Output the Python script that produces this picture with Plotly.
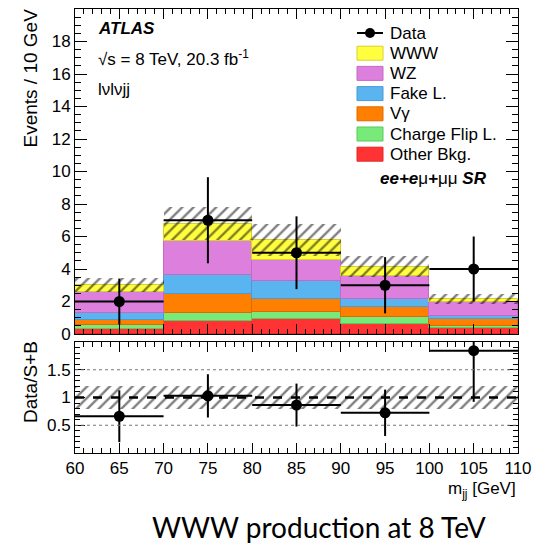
import numpy as np
import plotly.graph_objects as go

# ---------------- data ----------------
bin_centers = [65, 75, 85, 95, 105]
bin_widths = [10, 10, 10, 10, 10]
data_counts = [2, 7, 5, 3, 4]
data_err = [1.41, 2.65, 2.24, 1.73, 2.00]

other_bkg = [0.30, 0.82, 0.91, 0.62, 0.39]
charge_flip = [0.26, 0.50, 0.43, 0.41, 0.12]
vgamma = [0.31, 1.15, 0.82, 0.62, 0.40]
fake_lep = [0.41, 1.18, 1.12, 0.51, 0.22]
wz = [1.30, 2.05, 1.30, 1.38, 0.83]
www = [0.44, 1.10, 1.21, 0.60, 0.21]
total_unc = [0.45, 1.00, 0.96, 0.65, 0.30]
ratio_band_unc = [0.20, 0.20, 0.20, 0.20, 0.20]

main_ytick_vals = [0, 2, 4, 6, 8, 10, 12, 14, 16, 18]
ratio_ytick_vals = [0.5, 1.0, 1.5]
ratio_ytick_text = ["0.5", "1", "1.5"]
xtick_vals = [60, 65, 70, 75, 80, 85, 90, 95, 100, 105, 110]
xtick_text = ["60", "65", "70", "75", "80", "85", "90", "95", "100", "105", "110"]

component_names = ["Other Bkg.", "Charge Flip L.", "V\u03b3", "Fake L.", "WZ", "WWW"]
component_values = [other_bkg, charge_flip, vgamma, fake_lep, wz, www]
component_colors = ["#ff3333", "#78ea7a", "#ff8000", "#5ab4f0", "#dd80dd", "#ffff40"]
component_edges = ["#e02828", "#5cc85e", "#e06a00", "#4a9ad6", "#c46ac4", "#d8d030"]

# ---------------- layout geometry (pixels) ----------------
W, H = 537, 546
L, R, T, B = 75, 19, 9, 93
PW, PH = W - L - R, H - T - B


def px(x):
    return (x - L) / PW


def py(y):
    return (H - B - y) / PH


FONT = "Liberation Sans, Arial, sans-serif"
fig = go.Figure()

# stacked backgrounds
base = np.zeros(len(bin_centers))
for name, vals, col, lcol in zip(component_names, component_values, component_colors, component_edges):
    vals = np.array(vals)
    fig.add_trace(go.Bar(
        x=bin_centers, y=vals, base=base, width=bin_widths, name=name,
        marker=dict(color=col, line=dict(color=lcol, width=1)),
        showlegend=False, xaxis="x", yaxis="y", hoverinfo="skip",
    ))
    base = base + vals

total = base
tu = np.array(total_unc)
hatch = dict(shape="/", fgcolor="#000000", bgcolor="rgba(0,0,0,0)", size=8, solidity=0.3)
# uncertainty hatch in main panel
fig.add_trace(go.Bar(
    x=bin_centers, y=2 * tu, base=total - tu, width=bin_widths,
    marker=dict(color="rgba(0,0,0,0)", line=dict(width=0), pattern=hatch),
    showlegend=False, xaxis="x", yaxis="y", hoverinfo="skip",
))

# data in main panel
fig.add_trace(go.Scatter(
    x=bin_centers, y=data_counts, mode="markers", name="Data",
    marker=dict(color="black", size=11),
    error_x=dict(type="data", array=[w / 2 for w in bin_widths], color="black", thickness=2, width=0),
    error_y=dict(type="data", array=data_err, color="black", thickness=2, width=0),
    showlegend=False, xaxis="x", yaxis="y",
))

# ratio panel
rb = np.array(ratio_band_unc)
fig.add_trace(go.Bar(
    x=bin_centers, y=2 * rb, base=1 - rb, width=bin_widths,
    marker=dict(color="rgba(0,0,0,0)", line=dict(width=0), pattern=hatch),
    showlegend=False, xaxis="x2", yaxis="y2", hoverinfo="skip",
))
ratio = np.array(data_counts) / total
ratio_err = np.array(data_err) / total
fig.add_trace(go.Scatter(
    x=bin_centers, y=ratio, mode="markers", showlegend=False,
    marker=dict(color="black", size=11),
    error_x=dict(type="data", array=[w / 2 for w in bin_widths], color="black", thickness=2, width=0),
    error_y=dict(type="data", array=ratio_err, color="black", thickness=2, width=0),
    xaxis="x2", yaxis="y2", cliponaxis=True,
))

# reference lines in ratio panel
for yv, dash, wdt, col in [(0.5, "dot", 1, "#777"), (1.5, "dot", 1, "#777"), (1.0, "dash", 2.5, "black")]:
    fig.add_shape(type="line", xref="x2", yref="y2", x0=60, x1=110, y0=yv, y1=yv,
                  line=dict(color=col, width=wdt, dash=dash), layer="above")

axis_common = dict(ticks="inside", mirror="allticks", showline=True, linecolor="black",
                   linewidth=1, tickcolor="black", showgrid=False, zeroline=False,
                   tickfont=dict(family=FONT, size=17, color="black"))

main_top, main_bot = py(9), py(334)
rat_top, rat_bot = py(342), py(453)

fig.update_layout(
    width=W, height=H, margin=dict(l=L, r=R, t=T, b=B, autoexpand=False),
    paper_bgcolor="white", plot_bgcolor="white",
    barmode="overlay", bargap=0, showlegend=False,
    font=dict(family=FONT, size=15, color="black"),
    xaxis=dict(range=[60, 110], domain=[0, 1], anchor="y", tickvals=xtick_vals,
               showticklabels=False, ticklen=10,
               minor=dict(dtick=1, ticklen=5, ticks="inside", tickcolor="black"), **axis_common),
    yaxis=dict(range=[0, 20], domain=[main_bot, main_top], anchor="x", tickvals=main_ytick_vals,
               ticklen=12, minor=dict(dtick=0.5, ticklen=6, ticks="inside", tickcolor="black"),
               **axis_common),
    xaxis2=dict(range=[60, 110], domain=[0, 1], anchor="y2", matches="x", tickvals=xtick_vals,
                ticktext=xtick_text, ticklen=10,
                minor=dict(dtick=1, ticklen=5, ticks="inside", tickcolor="black"), **axis_common),
    yaxis2=dict(range=[0, 2], domain=[rat_bot, rat_top], anchor="x2", tickvals=ratio_ytick_vals,
                ticktext=ratio_ytick_text, ticklen=10,
                minor=dict(dtick=0.1, ticklen=5, ticks="inside", tickcolor="black"), **axis_common),
)

# ---------------- custom ROOT-style legend ----------------
leg_x0, leg_x1, leg_text_x = 357, 383, 388
row0, row_step = 33, 20.2
legend_entries = [("Data", None, None)] + [
    (n, c, e) for n, c, e in zip(component_names[::-1], component_colors[::-1], component_edges[::-1])
]
for i, (name, col, edge) in enumerate(legend_entries):
    yc = row0 + i * row_step
    if col is None:
        fig.add_shape(type="line", xref="paper", yref="paper", x0=px(leg_x0), x1=px(leg_x1),
                      y0=py(yc), y1=py(yc), line=dict(color="black", width=2))
        fig.add_shape(type="circle", xref="paper", yref="paper", x0=px(370 - 5), x1=px(370 + 5),
                      y0=py(yc + 5), y1=py(yc - 5), fillcolor="black", line=dict(color="black", width=0))
    else:
        fig.add_shape(type="rect", xref="paper", yref="paper", x0=px(leg_x0), x1=px(leg_x1),
                      y0=py(yc + 7), y1=py(yc - 7), fillcolor=col, line=dict(color=edge, width=1))
    fig.add_annotation(text=name, xref="paper", yref="paper", x=px(leg_text_x), y=py(yc),
                       xanchor="left", yanchor="middle", showarrow=False,
                       font=dict(family=FONT, size=17, color="black"))

ann = [
    dict(text="<b><i>ATLAS</i></b>", x=px(96), y=py(29), xanchor="left", yanchor="middle", size=17),
    dict(text="\u221as = 8 TeV, 20.3 fb<sup>-1</sup>", x=px(96), y=py(58), xanchor="left", yanchor="middle", size=17),
    dict(text="l\u03bdl\u03bdjj", x=px(96), y=py(89), xanchor="left", yanchor="middle", size=17),
    dict(text="<b><i>ee+e</i></b>\u03bc<b><i>+</i></b>\u03bc\u03bc <b><i>SR</i></b>", x=px(378), y=py(178),
         xanchor="left", yanchor="middle", size=17),
    dict(text="m<sub>jj</sub> [GeV]", x=px(518), y=py(490), xanchor="right", yanchor="middle", size=17),
]
for a in ann:
    fig.add_annotation(text=a["text"], xref="paper", yref="paper", x=a["x"], y=a["y"],
                       xanchor=a["xanchor"], yanchor=a["yanchor"], showarrow=False,
                       font=dict(family=FONT, size=a["size"], color="black"))

fig.add_annotation(text="Events / 10 GeV", xref="paper", yref="paper", x=px(30), y=py(7),
                   xanchor="center", yanchor="top", textangle=-90, showarrow=False,
                   font=dict(family=FONT, size=19, color="black"))
fig.add_annotation(text="Data/S+B", xref="paper", yref="paper", x=px(30), y=py(339),
                   xanchor="center", yanchor="top", textangle=-90, showarrow=False,
                   font=dict(family=FONT, size=19, color="black"))
fig.add_annotation(text="WWW production at 8 TeV", xref="paper", yref="paper", x=px(319), y=py(527),
                   xanchor="center", yanchor="middle", showarrow=False,
                   font=dict(family="Lato, Carlito, sans-serif", size=28, color="black"))

fig.write_html("out.html", config={"displayModeBar": False},
               post_script="document.body.style.margin='0px';document.body.style.overflow='hidden';")
